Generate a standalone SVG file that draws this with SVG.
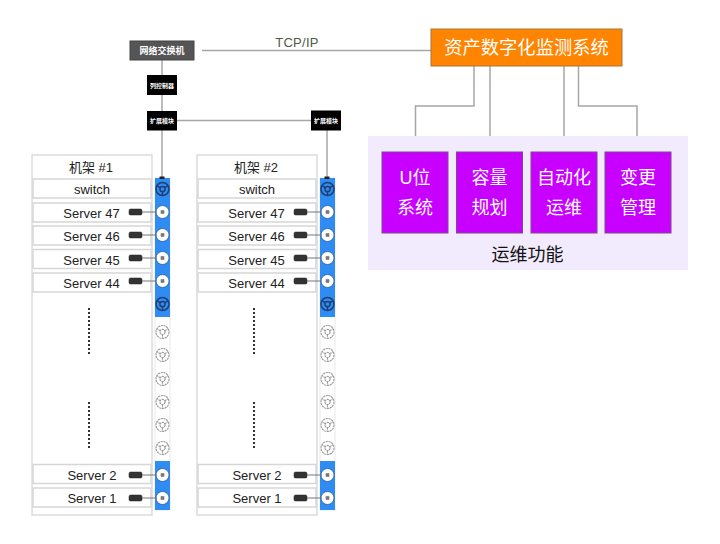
<svg xmlns="http://www.w3.org/2000/svg" xmlns:xlink="http://www.w3.org/1999/xlink" width="720" height="544" viewBox="0 0 720 544">
<style>
text{font-family:"Liberation Sans","Noto Sans CJK SC",sans-serif;text-anchor:middle}
.line{fill:none;stroke:#a6a6a6;stroke-width:1.5}
.rack{fill:#fff;stroke:#d2d2d2;stroke-width:1.2}
.slot{fill:#fff;stroke:#d6d6d6;stroke-width:1.5}
.slotText{font-size:13px;fill:#222}
.title{font-size:13px;fill:#222}
.fn{fill:#c800ff;stroke:#7d4a8f;stroke-width:1}
.fnText{font-size:18px;fill:#fff}
.mod{fill:#000}
.modText{font-size:6px;font-weight:bold;fill:#fff}
.dots{fill:none;stroke:#333;stroke-width:2;stroke-dasharray:2 2}
.chip{fill:#333;stroke:#222;stroke-width:.5}
.wire{fill:none;stroke:#777;stroke-width:1}
.ring{fill:none;stroke:#1f3f73;stroke-width:1.5}
.ringOff{fill:none;stroke:#9a9a9a;stroke-width:1.1;stroke-dasharray:2.200 .6}
</style>
<defs>
<g id="portOn"><circle r="6.500" class="ring"/><circle r="2.600" class="ring"/><path class="ring" d="M0 2.600V6.500M-2.200 -1.300L-5.600 -3.200M2.200 -1.300L5.600 -3.200"/></g>
<g id="portOff"><circle r="6.500" class="ringOff"/><circle r="2.600" class="ringOff"/><path class="ringOff" d="M0 2.600V6.500M-2.200 -1.300L-5.600 -3.200M2.200 -1.300L5.600 -3.200"/></g>
<g id="portUsed"><circle r="6.500" fill="#fff" stroke="#24508f" stroke-width=".7"/><rect x="-1.800" y="-1.800" width="3.600" height="3.600" fill="#777"/></g>
<g id="conn"><rect x="129" y="-3" width="13" height="6" rx="1.500" class="chip"/><path class="wire" d="M142 0H157"/></g>
<g id="strip">
<rect x="155" y="178" width="15" height="332" fill="#fff" stroke="#e4e4e4" stroke-width=".8"/>
<rect x="155" y="178" width="15" height="139" fill="#2f8cf2"/>
<rect x="155" y="461" width="15" height="49" fill="#2f8cf2"/>
<rect x="159.500" y="176.500" width="5" height="2.500" fill="#222"/>
<use href="#portOn" x="162.500" y="189"/>
<use href="#portUsed" x="162.500" y="212"/>
<use href="#portUsed" x="162.500" y="235"/>
<use href="#portUsed" x="162.500" y="258"/>
<use href="#portUsed" x="162.500" y="281"/>
<use href="#portOn" x="162.500" y="304"/>
<use href="#portOff" x="162.500" y="332"/>
<use href="#portOff" x="162.500" y="355"/>
<use href="#portOff" x="162.500" y="379"/>
<use href="#portOff" x="162.500" y="402"/>
<use href="#portOff" x="162.500" y="425"/>
<use href="#portOff" x="162.500" y="448"/>
<use href="#portUsed" x="162.500" y="475"/>
<use href="#portUsed" x="162.500" y="498"/>
<use href="#conn" y="212"/><use href="#conn" y="235"/><use href="#conn" y="258"/><use href="#conn" y="281"/><use href="#conn" y="475"/><use href="#conn" y="498"/>
</g>
<g id="rackBody">
<rect x="32" y="155" width="120" height="360" class="rack"/>
<rect x="33" y="179" width="118" height="19" class="slot"/>
<text x="92" y="194" class="slotText">switch</text>
<rect x="33" y="203" width="118" height="19" class="slot"/>
<text x="91.500" y="218" class="slotText">Server 47</text>
<rect x="33" y="226" width="118" height="19" class="slot"/>
<text x="91.500" y="241" class="slotText">Server 46</text>
<rect x="33" y="249.500" width="118" height="19" class="slot"/>
<text x="91.500" y="264.500" class="slotText">Server 45</text>
<rect x="33" y="273" width="118" height="19" class="slot"/>
<text x="91.500" y="288" class="slotText">Server 44</text>
<path class="dots" d="M89 308V355M89 402V449"/>
<rect x="33" y="464.500" width="118" height="19" class="slot"/>
<text x="92" y="480" class="slotText">Server 2</text>
<rect x="33" y="488" width="118" height="19" class="slot"/>
<text x="92" y="503" class="slotText">Server 1</text>
</g>
</defs>

<g id="connectors">
<path class="line" d="M162 60V111"/>
<path class="line" d="M177 120.500H311"/>
<path class="line" d="M162 130V177"/>
<path class="line" d="M327 130V177"/>
<path class="line" d="M202 50.500H431"/>
<path class="line" d="M474 66V106H415.500V152"/>
<path class="line" d="M490 66V152"/>
<path class="line" d="M564 66V152"/>
<path class="line" d="M578.500 66V106H637V152"/>
</g>
<text x="297" y="47" font-size="13" fill="#4c5a46" style="letter-spacing:.3px">TCP/IP</text>

<g id="switch-node"><rect x="130" y="41" width="64" height="19" fill="#555" stroke="#444"/><text x="162" y="54" font-size="9" font-weight="bold" fill="#fff">网络交换机</text></g>
<g id="controller"><rect x="147" y="75" width="30" height="20" class="mod"/><text x="162" y="88" class="modText">列控制器</text></g>
<g id="ext1"><rect x="147" y="111" width="30" height="19.500" class="mod"/><text x="162" y="123" class="modText">扩展模块</text></g>
<g id="ext2"><rect x="311" y="110.500" width="30" height="20" class="mod"/><text x="326" y="123" class="modText">扩展模块</text></g>

<g id="rack1"><use href="#rackBody"/><use href="#strip"/><text x="91" y="172" class="title">机架 #1</text></g>
<g id="rack2"><use href="#rackBody" x="165"/><use href="#strip" x="165"/><text x="256" y="172" class="title">机架 #2</text></g>

<g id="system"><rect x="431" y="29" width="191" height="37" fill="#ff8400" stroke="#a8763a"/><text x="526.500" y="54" font-size="18.300" fill="#fff">资产数字化监测系统</text></g>

<rect id="panel" x="368" y="136" width="320" height="134" fill="#f1ebfd"/>
<g id="fn1"><rect x="382" y="152" width="66" height="81" class="fn"/><text x="415" y="184" class="fnText">U位</text><text x="415" y="214" class="fnText">系统</text></g>
<g id="fn2"><rect x="456.500" y="152" width="66" height="81" class="fn"/><text x="489.500" y="184" class="fnText">容量</text><text x="489.500" y="214" class="fnText">规划</text></g>
<g id="fn3"><rect x="531" y="152" width="66" height="81" class="fn"/><text x="564" y="184" class="fnText">自动化</text><text x="564" y="214" class="fnText">运维</text></g>
<g id="fn4"><rect x="605" y="152" width="66" height="81" class="fn"/><text x="638" y="184" class="fnText">变更</text><text x="638" y="214" class="fnText">管理</text></g>
<text x="527.500" y="261" font-size="18" fill="#111">运维功能</text>
</svg>
